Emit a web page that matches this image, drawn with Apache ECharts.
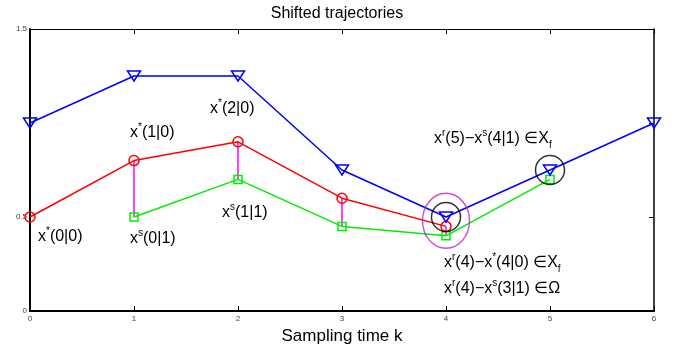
<!DOCTYPE html>
<html>
<head>
<meta charset="utf-8">
<script src="https://cdn.jsdelivr.net/npm/echarts@6/dist/echarts.min.js"></script>
<style>
  html, body { margin: 0; padding: 0; background: #fff; }
  #main { width: 674px; height: 350px; }
</style>
</head>
<body>
<div id="main"></div>
<script>
// sampling instants
const kBlue = [0, 1, 2, 3, 4, 5, 6];
const blueVals = [1.0, 1.25, 1.25, 0.75, 0.5, 0.75, 1.0];   // reference x^r
const kRed = [0, 1, 2, 3, 4];
const redVals = [0.5, 0.8, 0.9, 0.6, 0.45];                 // x*(.|0)
const kGreen = [1, 2, 3, 4, 5];
const greenVals = [0.5, 0.7, 0.45, 0.4, 0.7];               // x^s(.|1)
// magenta stems between red and green
const stemK = [1, 2, 3, 4];
const stemTop = [0.8, 0.9, 0.6, 0.45];
const stemBottom = [0.5, 0.7, 0.45, 0.4];
// highlight rings
const ringBlack = [[4, 0.5], [5, 0.75]];
const ringMagenta = [[4, 0.48]];
const yTickLabels = ["0", "0.5", "", "1.5"];

const FONT = "Liberation Sans";

const chart = echarts.init(document.getElementById("main"));

const rich = {
  n: { fontSize: 16, lineHeight: 22, color: "#000", fontFamily: FONT },
  s: { fontSize: 10, lineHeight: 10, verticalAlign: "top", color: "#000", fontFamily: FONT },
  b: { fontSize: 10, lineHeight: 10, verticalAlign: "bottom", color: "#000", fontFamily: FONT },
};

const note = (left, top, text) => ({
  type: "text",
  left: left,
  top: top,
  style: { text: text, rich: rich, font: "16px " + FONT },
});

chart.setOption({
  animation: false,
  title: {
    text: "Shifted trajectories",
    left: "center",
    top: 1,
    textStyle: { fontFamily: FONT, fontSize: 16, fontWeight: "normal", color: "#000" },
  },
  grid: { left: 30, right: 20, top: 29, bottom: 39 },
  xAxis: [
    {
      type: "value",
      min: 0,
      max: 6,
      interval: 1,
      name: "Sampling time k",
      nameLocation: "middle",
      nameGap: 17,
      nameTextStyle: { fontFamily: FONT, fontSize: 17, color: "#000" },
      axisLine: { lineStyle: { color: "#000", width: 2 } },
      axisTick: { inside: true, length: 5, lineStyle: { color: "#000" } },
      axisLabel: { fontSize: 8, color: "#444", margin: 4, fontFamily: FONT },
      splitLine: { show: false },
    },
    {
      type: "value",
      position: "top",
      min: 0,
      max: 6,
      interval: 1,
      axisLine: { onZero: false, lineStyle: { color: "#000", width: 1 } },
      axisTick: { inside: true, length: 5, lineStyle: { color: "#000" } },
      axisLabel: { show: false },
      splitLine: { show: false },
    },
  ],
  yAxis: [
    {
      type: "value",
      min: 0,
      max: 1.5,
      interval: 0.5,
      axisLine: { show: true, lineStyle: { color: "#000", width: 2 } },
      axisTick: { show: false },
      axisLabel: {
        fontSize: 8,
        color: "#444",
        margin: 3,
        fontFamily: FONT,
        formatter: (v, i) => yTickLabels[i],
      },
      splitLine: { show: false },
    },
    {
      type: "value",
      position: "right",
      min: 0,
      max: 1.5,
      interval: 0.5,
      axisLine: { show: true, onZero: false, lineStyle: { color: "#000", width: 1.5 } },
      axisTick: { show: true, inside: true, length: 5, lineStyle: { color: "#000" } },
      axisLabel: { show: false },
      splitLine: { show: false },
    },
  ],
  series: [
    {
      type: "custom",
      name: "stems",
      data: stemK.map((k, i) => [k, stemTop[i], stemBottom[i]]),
      renderItem: (params, api) => {
        const p1 = api.coord([api.value(0), api.value(1)]);
        const p2 = api.coord([api.value(0), api.value(2)]);
        return {
          type: "line",
          shape: { x1: p1[0], y1: p1[1], x2: p2[0], y2: p2[1] },
          style: { stroke: "#ff00ff", lineWidth: 1.5 },
        };
      },
      z: 1,
    },
    {
      type: "line",
      name: "green",
      data: kGreen.map((k, i) => [k, greenVals[i]]),
      symbol: "rect",
      symbolSize: 8,
      showAllSymbol: true,
      itemStyle: { color: "rgba(0,0,0,0)", borderColor: "#00ee00", borderWidth: 1.5 },
      lineStyle: { color: "#00ee00", width: 1.5 },
      z: 2,
    },
    {
      type: "line",
      name: "red",
      data: kRed.map((k, i) => [k, redVals[i]]),
      symbol: "circle",
      symbolSize: 10,
      itemStyle: { color: "rgba(0,0,0,0)", borderColor: "#ff0000", borderWidth: 1.5 },
      lineStyle: { color: "#ff0000", width: 1.5 },
      z: 3,
    },
    {
      type: "line",
      name: "blue",
      data: kBlue.map((k, i) => [k, blueVals[i]]),
      symbol: "triangle",
      symbolRotate: 180,
      symbolSize: [13, 10],
      itemStyle: { color: "rgba(0,0,0,0)", borderColor: "#0000ff", borderWidth: 1.5 },
      lineStyle: { color: "#0000ff", width: 1.5 },
      z: 4,
    },
    {
      type: "scatter",
      name: "rings",
      data: ringBlack,
      symbol: "circle",
      symbolSize: 29,
      itemStyle: { color: "rgba(0,0,0,0)", borderColor: "#000", borderWidth: 1.5 },
      z: 5,
    },
    {
      type: "scatter",
      name: "ellipse",
      data: ringMagenta,
      symbol: "circle",
      symbolSize: [47, 55],
      itemStyle: { color: "rgba(0,0,0,0)", borderColor: "#c020c8", borderWidth: 1.5 },
      z: 5,
    },
  ],
  graphic: [
    note(130, 122, "{n|x}{s|*}{n|(1|0)}"),
    note(210, 98, "{n|x}{s|*}{n|(2|0)}"),
    note(38, 226, "{n|x}{s|*}{n|(0|0)}"),
    note(130, 228, "{n|x}{s|s}{n|(0|1)}"),
    note(222, 202, "{n|x}{s|s}{n|(1|1)}"),
    note(434, 128, "{n|x}{s|r}{n|(5)−x}{s|s}{n|(4|1) ∈X}{b|f}"),
    note(444, 252, "{n|x}{s|r}{n|(4)−x}{s|*}{n|(4|0) ∈X}{b|f}"),
    note(444, 278, "{n|x}{s|r}{n|(4)−x}{s|s}{n|(3|1) ∈Ω}"),
  ],
});
</script>
</body>
</html>
